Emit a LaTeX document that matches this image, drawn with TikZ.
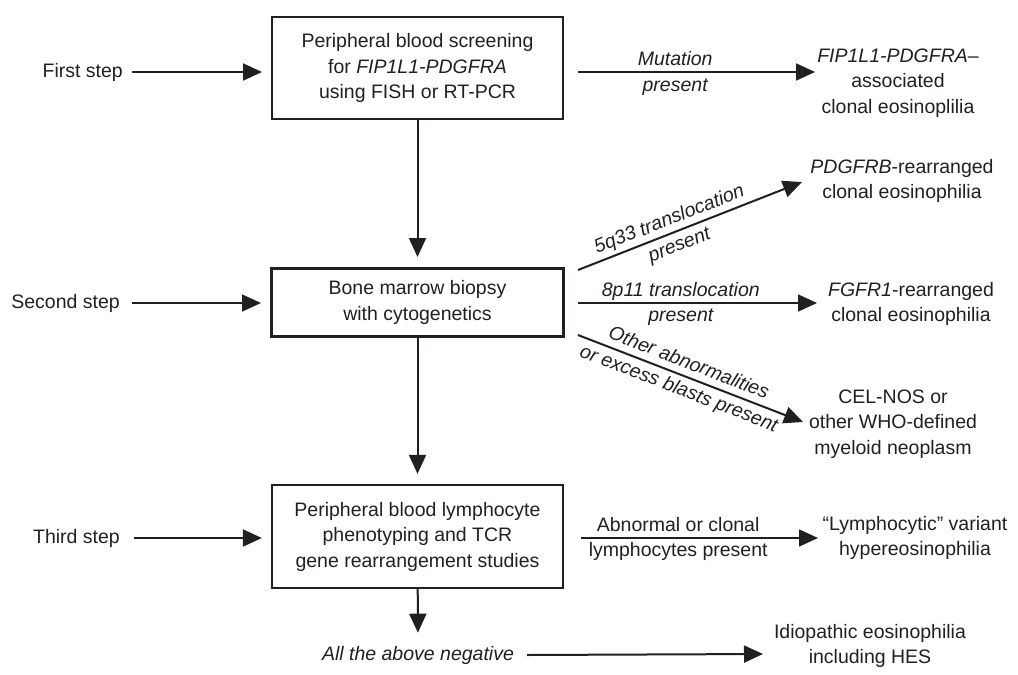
\documentclass[tikz,border=0pt]{standalone}
\usepackage{fontspec}
\setmainfont{Liberation Sans}
\usetikzlibrary{arrows.meta}
\definecolor{ink}{HTML}{231F20}
\begin{document}
\begin{tikzpicture}[x=1pt,y=-1pt,
  every node/.style={text=ink, font=\fontsize{19.5}{25.5}\selectfont},
  box/.style={draw=ink, line width=2pt, align=center, inner sep=0pt},
  txt/.style={align=center, inner sep=0pt},
  arr/.style={draw=ink, line width=2pt, -{Triangle[length=19pt,width=17pt]}},
  thinarr/.style={arr, line width=1.6pt},
  lab/.style={inner sep=1pt, text height=14pt, text depth=4pt,
              font=\fontsize{19.5}{25.5}\selectfont\itshape},
  uplab/.style={lab, font=\fontsize{19.5}{25.5}\selectfont},
]
\useasboundingbox (0,0) rectangle (1018,675);

% main boxes
\node[box, minimum width=291pt, minimum height=102pt] (b1) at (417.5,68)
  {Peripheral blood screening\\ for \textit{FIP1L1-PDGFRA}\\ using FISH or RT-PCR};
\node[box, line width=3pt, minimum width=292pt, minimum height=68pt] (b2) at (417.5,302.5)
  {Bone marrow biopsy\\ with cytogenetics};
\node[box, line width=2.3pt, minimum width=291pt, minimum height=103pt] (b3) at (417.5,536.5)
  {Peripheral blood lymphocyte\\ phenotyping and TCR\\ gene rearrangement studies};

% step labels
\node[txt, anchor=east] (s1) at (123,72) {First step};
\node[txt, anchor=east] (s2) at (120,303) {Second step};
\node[txt, anchor=east] (s3) at (120,538) {Third step};
\node[txt] (neg) at (418,655) {\textit{All the above negative}};

% results
\node[txt] (r1) at (898,83) {\textit{FIP1L1-PDGFRA}--\\associated\\clonal eosinoplilia};
\node[txt] (r2) at (902,181) {\textit{PDGFRB}-rearranged\\clonal eosinophilia};
\node[txt] (r3) at (911,304) {\textit{FGFR1}-rearranged\\clonal eosinophilia};
\node[txt] (r4) at (893,424) {CEL-NOS or\\other WHO-defined\\myeloid neoplasm};
\node[txt] (r5) at (915,538) {“Lymphocytic” variant\\hypereosinophilia};
\node[txt] (r6) at (870,646) {Idiopathic eosinophilia\\including HES};

% arrow end points
\coordinate (m1) at (578,72);  \coordinate (m2) at (815,72);
\coordinate (p1) at (578,270); \coordinate (p2) at (802,182);
\coordinate (f1) at (578,303); \coordinate (f2) at (817,303);
\coordinate (o1) at (578,335); \coordinate (o2) at (803,422);
\coordinate (l1) at (581,538); \coordinate (l2) at (818,538);
\coordinate (n2) at (763,654);

% step arrows
\draw[arr, shorten >=9pt] ([xshift=9pt]s1.east) -- (s1.east -| b1.west);
\draw[thinarr, shorten >=9pt] ([xshift=12pt]s2.east) -- (s2.east -| b2.west);
\draw[arr, shorten >=9pt] ([xshift=14pt]s3.east) -- (s3.east -| b3.west);

% vertical arrows
\draw[arr, shorten >=10pt] (b1) -- (b2);
\draw[arr, shorten >=10pt] (b2) -- (b3);
\draw[arr, shorten >=13pt] (b3) -- (neg);
\draw[arr] ([xshift=13pt]neg.east) -- (n2);

% outcome arrows
\draw[arr] (m1) -- (m2)
  node[lab, pos=.41, above=1pt] {Mutation}
  node[lab, pos=.41, below=3pt] {present};
\draw[arr] (p1) -- (p2)
  node[lab, sloped, pos=.43, above=2pt] {5q33 translocation}
  node[lab, sloped, pos=.43, below=3.5pt] {present};
\draw[thinarr] (f1) -- (f2)
  node[lab, pos=.43, above=1pt] {8p11 translocation}
  node[lab, pos=.43, below=3pt] {present};
\draw[arr] (o1) -- (o2)
  node[lab, sloped, pos=.47, above=2pt] {Other abnormalities}
  node[lab, sloped, pos=.47, below=3.5pt] {or excess blasts present};
\draw[thinarr] (l1) -- (l2)
  node[uplab, pos=.41, above=1pt] {Abnormal or clonal}
  node[uplab, pos=.41, below=3pt] {lymphocytes present};
\end{tikzpicture}
\end{document}
